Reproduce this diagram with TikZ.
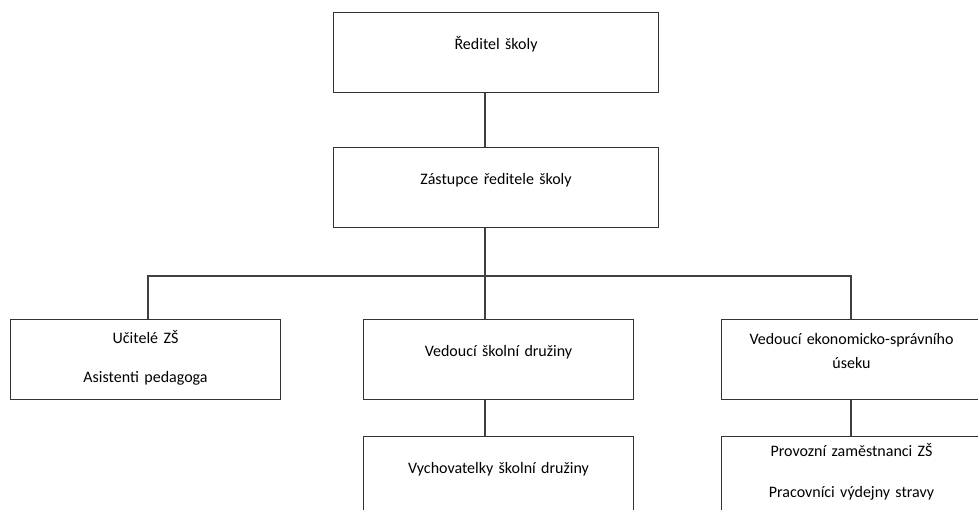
\documentclass[tikz,border=0pt]{standalone}
\usepackage{fontspec}
\setmainfont{Carlito}
\usepackage{tikz}
\usetikzlibrary{positioning}

\begin{document}
\begin{tikzpicture}[x=0.75pt, y=-0.75pt, node distance = 40.5pt,
    font=\fontsize{12}{14.6}\selectfont]
      \tikzstyle{block} = [rectangle, draw=black!80, line width=0.8pt,
                           inner sep=0pt, align=center, anchor=north west,
                           text width=202.5pt, text height=27.75pt,
                           text depth=32.25pt]
      \tikzstyle{line} = [draw=black!75, line width=0.8pt]
      \useasboundingbox (0,0) rectangle (978,510);
      \clip (0,0) rectangle (978,510);
      \coordinate (trunk) at (485,0);
      \coordinate (lcol) at (148,0);
      \coordinate (rcol) at (851,0);
      \coordinate (bar) at (485,276);
      \node[block, text width=243.75pt] (reditel) at (333,12) {Ředitel školy};
      \node[block, text width=243.75pt, below = of reditel.south west,
            anchor=north west] (zastupce) {Zástupce ředitele školy};
      \path[line] (reditel.south -| trunk) -- (zastupce.north -| trunk);
      \node[block, text height=18pt, text depth=42pt] (ucitele) at (10,319)
        {Učitelé ZŠ\\[14.6pt]Asistenti pedagoga};
      \node[block] (druzina) at (363,319) {Vedoucí školní družiny};
      \node[block, text width=195pt, text height=18.75pt,
            text depth=41.25pt] (ekonom) at (721,319)
        {Vedoucí ekonomicko-správního\\[3.4pt]úseku};
      \path[line] (zastupce.south -| trunk) -- (druzina.north -| trunk);
      \path[line] (ucitele.north -| lcol) |- (bar) -| (ekonom.north -| rcol);
      \node[block, below = 27pt of druzina.south west, anchor=north west]
        (vychov) {Vychovatelky školní družiny};
      \path[line] (druzina.south -| trunk) -- (vychov.north -| trunk);
      \node[block, text width=195pt, text height=15pt, text depth=45pt,
            below = 27pt of ekonom.south west, anchor=north west] (provoz)
        {Provozní zaměstnanci ZŠ\\[16.1pt]Pracovníci výdejny stravy};
      \path[line] (ekonom.south -| rcol) -- (provoz.north -| rcol);
    \end{tikzpicture}
\end{document}
